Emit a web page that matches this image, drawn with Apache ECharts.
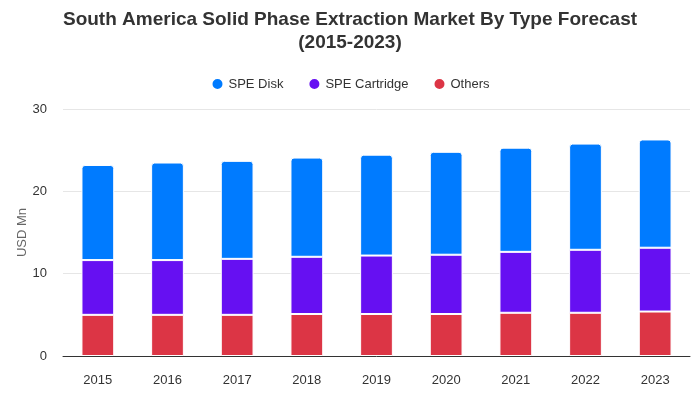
<!DOCTYPE html>
<html><head><meta charset="utf-8">
<script src="https://cdn.jsdelivr.net/npm/echarts@6/dist/echarts.min.js"></script>
<style>html,body{margin:0;padding:0;background:#fff}#c{width:700px;height:400px}</style>
</head><body><div id="c"></div>
<script>
const categories = ['2015','2016','2017','2018','2019','2020','2021','2022','2023'];
const others = [5.0,5.0,5.0,5.1,5.1,5.1,5.25,5.25,5.4];
const cartridge = [6.65,6.65,6.8,6.95,7.1,7.2,7.4,7.65,7.75];
const disk = [11.55,11.85,11.9,12.05,12.25,12.5,12.65,12.9,13.15];
const yTicks = [0,10,20,30];

const font = 'Liberation Sans, Arial, sans-serif';
const chart = echarts.init(document.getElementById('c'));
function s(name, data, color, top){
  return {name, type:'bar', stack:'t', data, barWidth:'47%',
    itemStyle:{color, borderColor:'#fff', borderWidth:1, borderRadius: top?[3,3,0,0]:0},
    emphasis:{disabled:true}};
}
chart.setOption({
  animation:false,
  title:{text:'South America Solid Phase Extraction Market By Type Forecast\n(2015-2023)',
    left:'center', top:3,
    textStyle:{fontFamily:font, fontSize:19, fontWeight:'bold', color:'#333', lineHeight:23}},
  legend:{top:72, left:'center', icon:'circle', itemWidth:12, itemHeight:12, itemGap:24,
    textStyle:{fontFamily:font, fontSize:13, color:'#333'},
    data:['SPE Disk','SPE Cartridge','Others']},
  grid:{left:63, right:10, top:109, bottom:44},
  xAxis:{type:'category', data:categories,
    axisLine:{lineStyle:{color:'#333'}}, axisTick:{show:false},
    axisLabel:{fontFamily:font, fontSize:13, color:'#333', margin:18}},
  yAxis:{type:'value', min:yTicks[0], max:yTicks[yTicks.length-1], interval:10,
    name:'USD Mn', nameLocation:'middle', nameGap:34, nameMoveOverlap:false,
    nameTextStyle:{fontFamily:font, fontSize:13, color:'#666'},
    axisLine:{show:false}, axisTick:{show:false},
    axisLabel:{fontFamily:font, fontSize:13, color:'#333', margin:16},
    splitLine:{lineStyle:{color:'#e6e6e6'}}},
  series:[
    s('Others', others, '#dc3545', false),
    s('SPE Cartridge', cartridge, '#6610f2', false),
    s('SPE Disk', disk, '#007bff', true)
  ]
});
</script></body></html>
